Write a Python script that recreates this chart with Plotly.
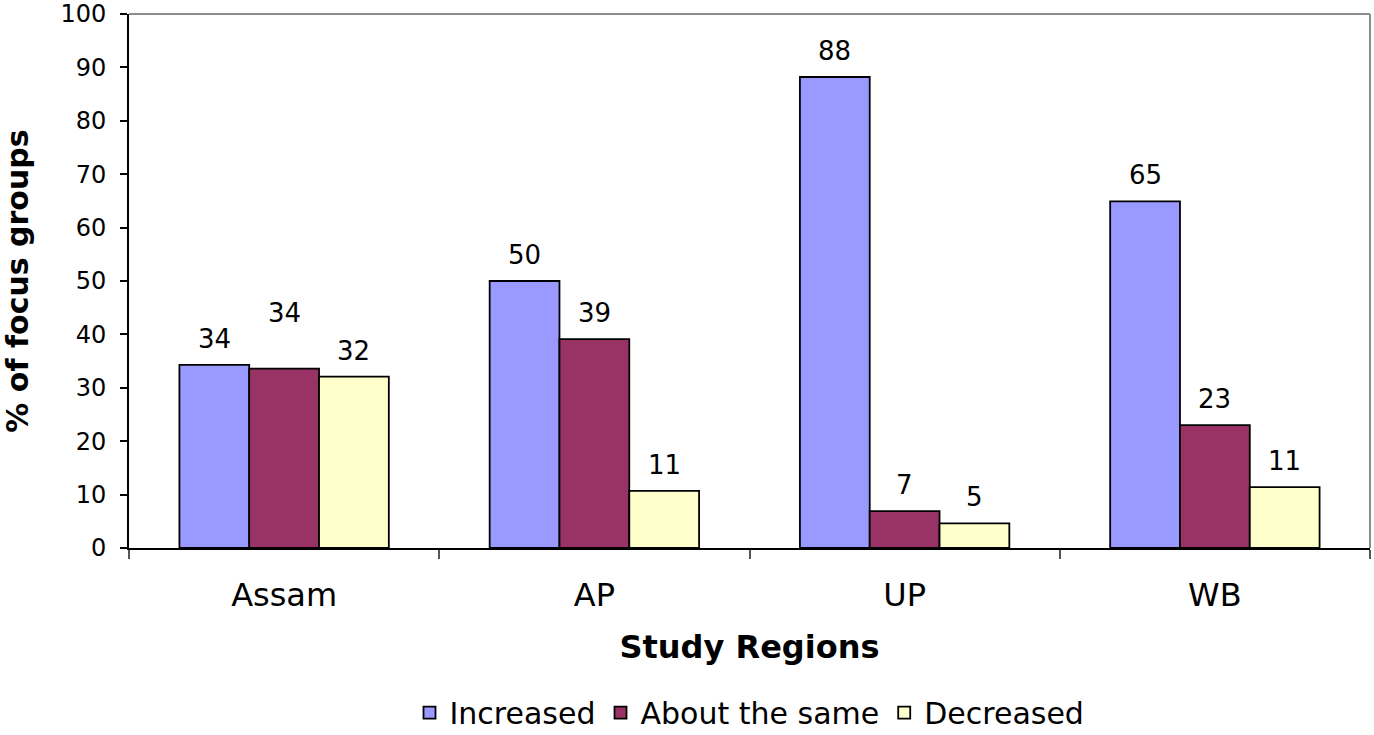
import plotly.graph_objects as go

regions = ["Assam", "AP", "UP", "WB"]
series_names = ["Increased", "About the same", "Decreased"]
increased = [34.3, 50.0, 88.2, 64.9]
about_same = [33.6, 39.1, 6.9, 23.0]
decreased = [32.1, 10.7, 4.6, 11.4]
y_ticks = list(range(0, 101, 10))

series_values = [increased, about_same, decreased]
colors = ["#9999FF", "#993366", "#FFFFCC"]

FONT = "DejaVu Sans"
plot_l, plot_r, plot_t, plot_b = 129, 4, 14, 187
W, H = 1374, 735
bargap = 0.325
cat_px = (W - plot_l - plot_r) / len(regions)
bar_px = cat_px * (1 - bargap) / len(series_names)

fig = go.Figure()
for name, vals, col in zip(series_names, series_values, colors):
    fig.add_trace(go.Bar(
        name=name, x=regions, y=vals,
        marker=dict(color=col, line=dict(color="black", width=1.8)),
    ))

# value labels above each bar; the Assam "About the same" label sits higher
label_lift = {("Assam", 1): 30}
for j, vals in enumerate(series_values):
    for i, v in enumerate(vals):
        fig.add_annotation(
            x=regions[i], y=v, xref="x", yref="y",
            text=f"{v:.0f}", showarrow=False,
            xshift=(j - 1) * bar_px,
            yshift=26 + label_lift.get((regions[i], j), 0),
            yanchor="middle",
            font=dict(family=FONT, size=26, color="black"),
        )

# grey top and right frame of the plot area
fig.add_shape(type="line", xref="paper", yref="paper", x0=0, x1=1, y0=1, y1=1,
              line=dict(color="#8c8c8c", width=2))
fig.add_shape(type="line", xref="paper", yref="paper", x0=1, x1=1, y0=0, y1=1,
              line=dict(color="#8c8c8c", width=2))

fig.update_layout(
    width=W, height=H,
    margin=dict(l=plot_l, r=plot_r, t=plot_t, b=plot_b, autoexpand=False),
    paper_bgcolor="white", plot_bgcolor="white",
    barmode="group", bargap=bargap, bargroupgap=0,
    font=dict(family=FONT, color="black"),
    showlegend=True,
    legend=dict(orientation="h", x=0.5, xanchor="center", y=-0.357, yanchor="bottom",
                font=dict(family=FONT, size=30), itemwidth=30, tracegroupgap=0),
    xaxis=dict(
        type="category", tickson="boundaries", ticks="outside", ticklen=9,
        tickcolor="#555555", tickwidth=2, automargin=False,
        showline=True, linecolor="black", linewidth=2,
        tickfont=dict(family=FONT, size=32), ticklabelstandoff=18,
        title=dict(text="<b>Study Regions</b>", font=dict(family=FONT, size=32), standoff=22),
        showgrid=False,
    ),
    yaxis=dict(
        range=[0, 100], tickvals=y_ticks, ticks="outside", ticklen=7,
        tickcolor="black", tickwidth=1.5, automargin=False,
        ticklabeloverflow="allow",
        showline=True, linecolor="black", linewidth=2,
        tickfont=dict(family=FONT, size=24), ticklabelstandoff=9,
        title=dict(text="<b>% of focus groups</b>", font=dict(family=FONT, size=30), standoff=40),
        showgrid=False, zeroline=False,
    ),
)

fig.write_html("out.html")
